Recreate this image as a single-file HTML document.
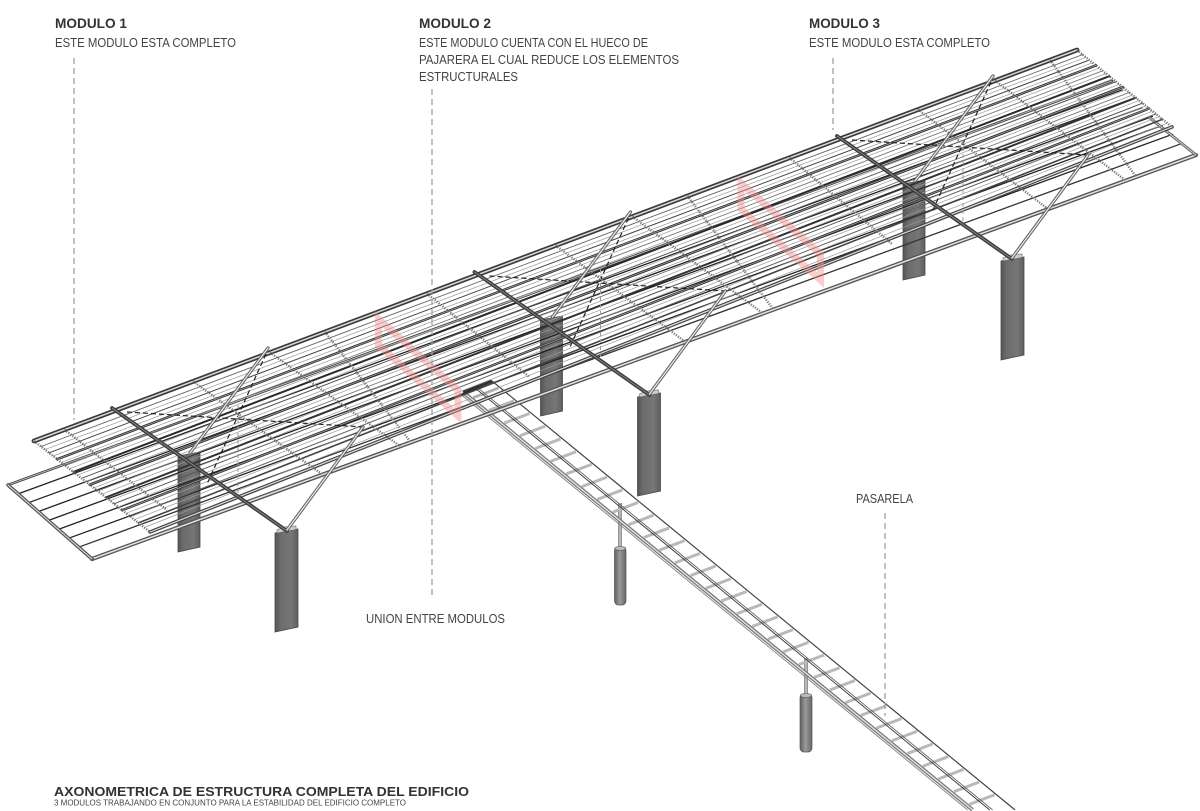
<!DOCTYPE html>
<html>
<head>
<meta charset="utf-8">
<style>
html,body{margin:0;padding:0;background:#fff;width:1200px;height:811px;overflow:hidden;}
svg{display:block;overflow:hidden;}
text{font-family:"Liberation Sans",Arial,sans-serif;}
</style>
</head>
<body>
<svg width="1200" height="811" viewBox="0 0 1200 811" xmlns="http://www.w3.org/2000/svg">
<defs>
<linearGradient id="col" x1="0" x2="1" y1="0" y2="0">
<stop offset="0" stop-color="#555"/>
<stop offset="0.25" stop-color="#6c6c6c"/>
<stop offset="0.7" stop-color="#767676"/>
<stop offset="1" stop-color="#5e5e5e"/>
</linearGradient>
<linearGradient id="cyl" x1="0" x2="1" y1="0" y2="0">
<stop offset="0" stop-color="#5e5e5e"/>
<stop offset="0.45" stop-color="#9a9a9a"/>
<stop offset="1" stop-color="#666"/>
</linearGradient>
</defs>

<!-- COLUMNS -->
<g fill="url(#col)" stroke="#4a4a4a" stroke-width="0.8">
<polygon points="178,456 200,452 200,547 178,552"/>
<polygon points="275,533 298,529 298,627 275,632"/>
<polygon points="540.5,320 562.5,316 562.5,411 540.5,416"/>
<polygon points="637.5,397 660.5,393 660.5,491 637.5,496"/>
<polygon points="903,184 925,180 925,275 903,280"/>
<polygon points="1001,261 1024,257 1024,355 1001,360"/>
</g>
<g fill="#cfcfcf" stroke="#666" stroke-width="0.6">
<polygon points="277,533 296,529.5 296,526 284,527 277,530"/>
<polygon points="639.5,397 658.5,393.5 658.5,390 646.5,391 639.5,394"/>
<polygon points="1003,261 1022,257.5 1022,254 1010,255 1003,258"/>
</g>

<!-- WALKWAY POSTS -->
<g>
<line x1="620" y1="503" x2="620" y2="549" stroke="#666" stroke-width="3.4"/>
<line x1="620" y1="503" x2="620" y2="549" stroke="#e4e4e4" stroke-width="1.3"/>
<rect x="614.5" y="547" width="11.5" height="58" rx="4" fill="url(#cyl)" stroke="#555" stroke-width="0.7"/>
<ellipse cx="620.25" cy="548.5" rx="5.5" ry="2" fill="#bbb" stroke="#555" stroke-width="0.6"/>
<line x1="806" y1="658" x2="806" y2="696" stroke="#666" stroke-width="3.4"/>
<line x1="806" y1="658" x2="806" y2="696" stroke="#e4e4e4" stroke-width="1.3"/>
<rect x="800" y="694" width="12" height="58" rx="4" fill="url(#cyl)" stroke="#555" stroke-width="0.7"/>
<ellipse cx="806" cy="695.5" rx="5.7" ry="2" fill="#bbb" stroke="#555" stroke-width="0.6"/>
</g>

<!-- WALKWAY -->
<g transform="matrix(1 0.82 29 -11 463 392)" fill="none">
<path d="M8 .08v.87m15.5 -.87v.87m15.5 -.87v.87m15.5 -.87v.87m15.5 -.87v.87m15.5 -.87v.87m15.5 -.87v.87m15.5 -.87v.87m15.5 -.87v.87m15.5 -.87v.87m15.5 -.87v.87m15.5 -.87v.87m15.5 -.87v.87m15.5 -.87v.87m15.5 -.87v.87m15.5 -.87v.87m15.5 -.87v.87m15.5 -.87v.87m15.5 -.87v.87m15.5 -.87v.87m15.5 -.87v.87m15.5 -.87v.87m15.5 -.87v.87m15.5 -.87v.87m15.5 -.87v.87m15.5 -.87v.87m15.5 -.87v.87m15.5 -.87v.87m15.5 -.87v.87m15.5 -.87v.87m15.5 -.87v.87m15.5 -.87v.87m15.5 -.87v.87" stroke="#b9b9b9" stroke-width="3" vector-effect="non-scaling-stroke"/>
<path d="M0 -.12H508" stroke="#8a8a8a" stroke-width="1" vector-effect="non-scaling-stroke"/>
<path d="M0 0H509.5" stroke="#777" stroke-width="3.8" vector-effect="non-scaling-stroke"/>
<path d="M0 0H509.5" stroke="#e8e8e8" stroke-width="1.3" vector-effect="non-scaling-stroke"/>
<path d="M0 .4H515" stroke="#333" stroke-width="0.9" vector-effect="non-scaling-stroke"/>
<path d="M0 .47H516" stroke="#555" stroke-width="0.8" vector-effect="non-scaling-stroke"/>
<path d="M0 1H523" stroke="#444" stroke-width="1.2" vector-effect="non-scaling-stroke"/>
<path d="M0 0V1" stroke="#333" stroke-width="3" vector-effect="non-scaling-stroke"/>
</g>

<!-- LOWER ROOF PLANE -->
<g stroke-linecap="round">
<line x1="8" y1="485" x2="1112" y2="81" stroke="#444" stroke-width="2.6"/>
<line x1="8" y1="485" x2="1112" y2="81" stroke="#ccc" stroke-width="0.8"/>
<line x1="18.1" y1="493.9" x2="1122.1" y2="89.9" stroke="#222" stroke-width="1.3"/>
<line x1="28.2" y1="502.8" x2="1132.2" y2="98.8" stroke="#222" stroke-width="1.3"/>
<line x1="38.2" y1="511.6" x2="1142.2" y2="107.6" stroke="#222" stroke-width="1.3"/>
<line x1="48.3" y1="520.5" x2="1152.3" y2="116.5" stroke="#222" stroke-width="1.3"/>
<line x1="58.4" y1="529.4" x2="1162.4" y2="125.4" stroke="#222" stroke-width="1.3"/>
<line x1="68.5" y1="538.3" x2="1172.5" y2="134.3" stroke="#222" stroke-width="1.3"/>
<line x1="78.6" y1="547.2" x2="1182.6" y2="143.2" stroke="#333" stroke-width="1.3"/>
<line x1="92" y1="559" x2="1196" y2="155" stroke="#555" stroke-width="4.2"/>
<line x1="92" y1="559" x2="1196" y2="155" stroke="#e2e2e2" stroke-width="1.5"/>
<line x1="8" y1="485" x2="92" y2="559" stroke="#555" stroke-width="3.5"/>
<line x1="8" y1="485" x2="92" y2="559" stroke="#ddd" stroke-width="1.2" stroke-dasharray="1.2 1.2"/>
<line x1="1150" y1="118" x2="1196" y2="155" stroke="#666" stroke-width="3"/>
<line x1="1150" y1="118" x2="1196" y2="155" stroke="#ddd" stroke-width="1" stroke-dasharray="1.2 1.2"/>
</g>

<!-- UPPER ROOF PLANE: thin intermediate ribs -->
<g stroke="#9a9a9a" stroke-width="0.7">
<line x1="45.0" y1="449.6" x2="1086.0" y2="57.3"/>
<line x1="53.1" y1="456.0" x2="1092.7" y2="62.7"/>
<line x1="61.3" y1="462.4" x2="1099.3" y2="68.1"/>
<line x1="69.4" y1="468.8" x2="1106.0" y2="73.5"/>
<line x1="77.5" y1="475.1" x2="1112.6" y2="78.9"/>
<line x1="85.6" y1="481.5" x2="1119.3" y2="84.3"/>
<line x1="93.7" y1="487.9" x2="1125.9" y2="89.7"/>
<line x1="101.9" y1="494.2" x2="1132.6" y2="95.0"/>
<line x1="110.0" y1="500.6" x2="1139.2" y2="100.4"/>
<line x1="118.1" y1="507.0" x2="1145.9" y2="105.8"/>
<line x1="126.2" y1="513.3" x2="1152.5" y2="111.2"/>
<line x1="134.3" y1="519.7" x2="1159.2" y2="116.6"/>
<line x1="144.2" y1="527.5" x2="1167.3" y2="123.2"/>
</g>

<!-- UPPER ROOF PLANE -->
<g stroke-linecap="round">
<line x1="34" y1="441" x2="1077" y2="50" stroke="#3a3a3a" stroke-width="4.8"/>
<line x1="34" y1="441" x2="1077" y2="50" stroke="#d8d8d8" stroke-width="1.5"/>
<line x1="41" y1="446.5" x2="1082.7" y2="54.6" stroke="#666" stroke-width="0.9"/>
<line x1="49.1" y1="452.8" x2="1089.4" y2="60" stroke="#444" stroke-width="1"/>
<line x1="57.2" y1="459.2" x2="1096" y2="65.4" stroke="#333" stroke-width="2.5"/>
<line x1="57.2" y1="459.2" x2="1096" y2="65.4" stroke="#aaa" stroke-width="0.7"/>
<line x1="65.3" y1="465.6" x2="1102.7" y2="70.8" stroke="#777" stroke-width="0.9"/>
<line x1="73.4" y1="471.9" x2="1109.3" y2="76.2" stroke="#2a2a2a" stroke-width="2"/>
<line x1="81.6" y1="478.3" x2="1116" y2="81.6" stroke="#555" stroke-width="1"/>
<line x1="89.7" y1="484.7" x2="1122.6" y2="87" stroke="#333" stroke-width="2.7"/>
<line x1="89.7" y1="484.7" x2="1122.6" y2="87" stroke="#aaa" stroke-width="0.7"/>
<line x1="97.8" y1="491" x2="1129.3" y2="92.4" stroke="#777" stroke-width="0.9"/>
<line x1="105.9" y1="497.4" x2="1135.9" y2="97.7" stroke="#333" stroke-width="2"/>
<line x1="114" y1="503.8" x2="1142.6" y2="103.1" stroke="#555" stroke-width="1"/>
<line x1="122.2" y1="510.2" x2="1149.2" y2="108.5" stroke="#333" stroke-width="2.5"/>
<line x1="122.2" y1="510.2" x2="1149.2" y2="108.5" stroke="#aaa" stroke-width="0.7"/>
<line x1="130.3" y1="516.5" x2="1155.9" y2="113.9" stroke="#666" stroke-width="1"/>
<line x1="138.4" y1="522.9" x2="1162.5" y2="119.3" stroke="#444" stroke-width="1.6"/>
<line x1="150" y1="532" x2="1172" y2="127" stroke="#444" stroke-width="3.6"/>
<line x1="150" y1="532" x2="1172" y2="127" stroke="#ddd" stroke-width="1.2"/>
</g>

<!-- END EDGES & TRANSVERSE BEADED MEMBERS -->
<g stroke="#777" stroke-width="2.4" stroke-dasharray="1.2 1.3" fill="none">
<line x1="34" y1="441" x2="150" y2="532"/>
<line x1="1077" y1="50" x2="1172" y2="127"/>
<line x1="64.5" y1="429.6" x2="167" y2="510"/>
<line x1="193" y1="381.4" x2="322.6" y2="474.7"/>
<line x1="270" y1="352.5" x2="400.2" y2="446.2"/>
<line x1="325" y1="332" x2="410.6" y2="442"/>
<line x1="427" y1="293.6" x2="529.5" y2="377"/>
<line x1="555.5" y1="245.4" x2="685.1" y2="341.7"/>
<line x1="632.5" y1="216.5" x2="762.7" y2="313.2"/>
<line x1="687.5" y1="196" x2="773.1" y2="309"/>
<line x1="789.5" y1="157.6" x2="892" y2="244"/>
<line x1="918" y1="109.4" x2="1047.6" y2="208.7"/>
<line x1="995" y1="80.5" x2="1125.2" y2="180.2"/>
<line x1="1050" y1="60" x2="1135.6" y2="176"/>
</g>

<!-- RED BOXES (HUECO) -->
<g fill="none" stroke="#ee8a8a" stroke-opacity="0.42" stroke-width="7" stroke-linejoin="miter">
<polygon points="378.5,319 378.5,345 458,416 458,390"/>
<polygon points="741,183 741,209 820.5,280 820.5,254"/>
</g>

<!-- DASHED BRACING -->
<g stroke="#222" stroke-width="1.2" stroke-dasharray="5 3" fill="none">
<line x1="266" y1="354" x2="207" y2="484"/>
<line x1="127" y1="412" x2="363" y2="427"/>
<line x1="628.5" y1="218" x2="569.5" y2="348"/>
<line x1="489.5" y1="276" x2="725.5" y2="291"/>
<line x1="991" y1="82" x2="932" y2="212"/>
<line x1="852" y1="140" x2="1088" y2="155"/>
</g>
<g stroke="#999" stroke-width="1" stroke-dasharray="4 3" fill="none">
<line x1="238" y1="405" x2="238" y2="497"/>
<line x1="600.5" y1="269" x2="600.5" y2="361"/>
<line x1="963" y1="133" x2="963" y2="225"/>
</g>

<!-- CANTILEVER BEAMS -->
<g stroke-linecap="round">
<line x1="287" y1="531" x2="112" y2="408" stroke="#3d3d3d" stroke-width="3.8"/>
<line x1="287" y1="531" x2="112" y2="408" stroke="#8a8a8a" stroke-width="0.9"/>
<line x1="649.5" y1="395" x2="474.5" y2="272" stroke="#3d3d3d" stroke-width="3.8"/>
<line x1="649.5" y1="395" x2="474.5" y2="272" stroke="#8a8a8a" stroke-width="0.9"/>
<line x1="1012" y1="259" x2="837" y2="136" stroke="#3d3d3d" stroke-width="3.8"/>
<line x1="1012" y1="259" x2="837" y2="136" stroke="#8a8a8a" stroke-width="0.9"/>
</g>

<!-- RODS -->
<g stroke-linecap="round">
<g stroke="#666" stroke-width="3.3">
<line x1="190" y1="453" x2="268" y2="348"/>
<line x1="287" y1="530" x2="363" y2="427"/>
<line x1="552.5" y1="317" x2="630.5" y2="212"/>
<line x1="649.5" y1="394" x2="725.5" y2="291"/>
<line x1="915" y1="181" x2="993" y2="76"/>
<line x1="1012" y1="258" x2="1088" y2="155"/>
</g>
<g stroke="#ececec" stroke-width="1.2">
<line x1="190" y1="453" x2="268" y2="348"/>
<line x1="287" y1="530" x2="363" y2="427"/>
<line x1="552.5" y1="317" x2="630.5" y2="212"/>
<line x1="649.5" y1="394" x2="725.5" y2="291"/>
<line x1="915" y1="181" x2="993" y2="76"/>
<line x1="1012" y1="258" x2="1088" y2="155"/>
</g>
</g>

<!-- LEADER LINES -->
<g stroke="#a0a0a0" stroke-width="1.3" stroke-dasharray="6 4" fill="none">
<line x1="74" y1="58" x2="74" y2="420"/>
<line x1="432" y1="89" x2="432" y2="598"/>
<line x1="833" y1="58" x2="833" y2="130"/>
<line x1="885" y1="513" x2="885" y2="716"/>
</g>

<!-- TEXT -->
<g fill="#333">
<text x="55" y="28" font-size="13.5" font-weight="bold" textLength="72" lengthAdjust="spacingAndGlyphs">MODULO 1</text>
<text x="419" y="28" font-size="13.5" font-weight="bold" textLength="72" lengthAdjust="spacingAndGlyphs">MODULO 2</text>
<text x="809" y="28" font-size="13.5" font-weight="bold" textLength="71" lengthAdjust="spacingAndGlyphs">MODULO 3</text>
</g>
<g fill="#444" font-size="13">
<text x="55" y="47" textLength="181" lengthAdjust="spacingAndGlyphs">ESTE MODULO ESTA COMPLETO</text>
<text x="419" y="47" textLength="229" lengthAdjust="spacingAndGlyphs">ESTE MODULO CUENTA CON EL HUECO DE</text>
<text x="419" y="64" textLength="260" lengthAdjust="spacingAndGlyphs">PAJARERA EL CUAL REDUCE LOS ELEMENTOS</text>
<text x="419" y="81" textLength="99" lengthAdjust="spacingAndGlyphs">ESTRUCTURALES</text>
<text x="809" y="47" textLength="181" lengthAdjust="spacingAndGlyphs">ESTE MODULO ESTA COMPLETO</text>
<text x="856" y="503" textLength="57" lengthAdjust="spacingAndGlyphs">PASARELA</text>
<text x="366" y="623" textLength="139" lengthAdjust="spacingAndGlyphs">UNION ENTRE MODULOS</text>
</g>
<text x="54" y="796" font-size="13" font-weight="bold" fill="#333" textLength="415" lengthAdjust="spacingAndGlyphs">AXONOMETRICA DE ESTRUCTURA COMPLETA DEL EDIFICIO</text>
<text x="54" y="805.5" font-size="8.5" fill="#444" textLength="352" lengthAdjust="spacingAndGlyphs">3 MODULOS TRABAJANDO EN CONJUNTO PARA LA ESTABILIDAD DEL EDIFICIO COMPLETO</text>
</svg>
</body>
</html>
